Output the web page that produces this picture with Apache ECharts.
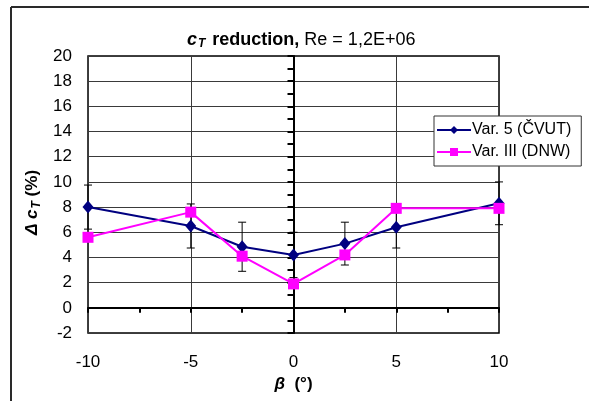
<!DOCTYPE html>
<html lang="en">
<head>
    <meta charset="UTF-8">
    <title>cT reduction</title>
    <style>
        body {
            margin: 0;
            padding: 0;
            background: #fff;
        }
        #chart {
            width: 589px;
            height: 401px;
        }
    </style>
</head>
<body>
<div id="chart"></div>
<script src="https://cdn.jsdelivr.net/npm/echarts@6/dist/echarts.min.js"></script>
<script>
    // values
    const beta = [-10, -5, -2.5, 0, 2.5, 5, 10];
    const cvut = [8.0, 6.5, 4.85, 4.2, 5.1, 6.4, 8.3];
    const dnw = [5.6, 7.6, 4.1, 1.9, 4.2, 7.9, 7.9];
    const cvutErr = [1.75, 1.75, 1.95, 1.8, 1.7, 1.65, 1.7];
    const seriesNames = ["Var. 5 (ČVUT)", "Var. III (DNW)"];

    const font = "Liberation Sans, Arial, sans-serif";
    const chart = echarts.init(document.getElementById("chart"));

    const cvutData = beta.map((b, i) => [b, cvut[i]]);
    const dnwData = beta.map((b, i) => [b, dnw[i]]);
    const errData = beta.map((b, i) => [b, cvut[i] - cvutErr[i], cvut[i] + cvutErr[i]]);

    function renderErr(params, api) {
        const top = api.coord([api.value(0), api.value(2)]);
        const bot = api.coord([api.value(0), api.value(1)]);
        const cap = 4;
        const style = {stroke: "#000", lineWidth: 1};
        return {
            type: "group",
            children: [
                {type: "line", shape: {x1: top[0], y1: top[1], x2: bot[0], y2: bot[1]}, style},
                {type: "line", shape: {x1: top[0] - cap, y1: top[1], x2: top[0] + cap, y2: top[1]}, style},
                {type: "line", shape: {x1: bot[0] - cap, y1: bot[1], x2: bot[0] + cap, y2: bot[1]}, style}
            ]
        };
    }

    const option = {
        backgroundColor: "#fff",
        animation: false,
        textStyle: {fontFamily: font},
        title: {
            text: "{ci|c}{sub|T}{b| reduction,}{n| Re = 1,2E+06}",
            left: 182,
            top: 25,
            textStyle: {
                rich: {
                    ci: {fontFamily: font, fontSize: 18, fontWeight: "bold", fontStyle: "italic", color: "#000"},
                    sub: {fontFamily: font, fontSize: 12, fontWeight: "bold", fontStyle: "italic", color: "#000", padding: [8, 2, 0, 1]},
                    b: {fontFamily: font, fontSize: 18, fontWeight: "bold", color: "#000"},
                    n: {fontFamily: font, fontSize: 18, fontWeight: "normal", color: "#000"}
                }
            }
        },
        legend: {
            orient: "vertical",
            left: 434,
            top: 116,
            backgroundColor: "#fff",
            borderColor: "#333",
            borderWidth: 1,
            borderRadius: 0,
            padding: [6, 10, 6, 2],
            itemGap: 6,
            itemWidth: 34,
            itemHeight: 10,
            data: seriesNames,
            textStyle: {fontFamily: font, fontSize: 16, color: "#000", padding: [0, 0, 0, -4]}
        },
        grid: {
            left: 88,
            top: 56,
            right: 90,
            bottom: 68,
            show: true,
            borderColor: "#000",
            borderWidth: 1.5,
            containLabel: false
        },
        xAxis: [
            {
                type: "value",
                min: -10,
                max: 10,
                interval: 5,
                position: "bottom",
                axisLine: {show: false, onZero: false},
                axisTick: {show: false},
                axisLabel: {fontFamily: font, fontSize: 17, color: "#000", margin: 21},
                splitLine: {show: true, lineStyle: {color: "#3a3a3a", width: 1}},
                name: "{g|β}{n|  (°)}",
                nameLocation: "middle",
                nameGap: 43,
                nameTextStyle: {
                    rich: {
                        g: {fontFamily: font, fontSize: 17, fontWeight: "bold", fontStyle: "italic", color: "#000"},
                        n: {fontFamily: font, fontSize: 17, fontWeight: "bold", color: "#000"}
                    }
                }
            },
            {
                type: "value",
                min: -10,
                max: 10,
                interval: 2.5,
                position: "bottom",
                axisLine: {show: true, onZero: true, lineStyle: {color: "#000", width: 2}},
                axisTick: {show: true, length: 5, lineStyle: {color: "#000", width: 2}},
                axisLabel: {show: false},
                splitLine: {show: false}
            }
        ],
        yAxis: [
            {
                type: "value",
                min: -2,
                max: 20,
                interval: 2,
                position: "left",
                axisLine: {show: false, onZero: false},
                axisTick: {show: false},
                axisLabel: {fontFamily: font, fontSize: 17, color: "#000", margin: 16},
                splitLine: {show: true, lineStyle: {color: "#3a3a3a", width: 1}},
                name: "{g|Δ c}{sub|T}{n| (%)}",
                nameLocation: "middle",
                nameRotate: 90,
                nameGap: 42,
                nameTextStyle: {
                    rich: {
                        g: {fontFamily: font, fontSize: 17, fontWeight: "bold", fontStyle: "italic", color: "#000"},
                        sub: {fontFamily: font, fontSize: 12, fontWeight: "bold", fontStyle: "italic", color: "#000", padding: [8, 0, 0, 1]},
                        n: {fontFamily: font, fontSize: 17, fontWeight: "bold", color: "#000", padding: [0, 16, 0, 0]}
                    }
                }
            },
            {
                type: "value",
                min: -2,
                max: 20,
                interval: 1,
                position: "left",
                axisLine: {show: true, onZero: true, lineStyle: {color: "#000", width: 2}},
                axisTick: {show: true, length: 6, lineStyle: {color: "#000", width: 2}},
                axisLabel: {show: false},
                splitLine: {show: false}
            }
        ],
        series: [
            {
                name: "err",
                type: "custom",
                xAxisIndex: 0,
                yAxisIndex: 0,
                renderItem: renderErr,
                encode: {x: 0, y: [1, 2]},
                data: errData,
                z: 3,
                silent: true
            },
            {
                name: seriesNames[0],
                type: "line",
                xAxisIndex: 0,
                yAxisIndex: 0,
                data: cvutData,
                symbol: "diamond",
                symbolSize: [11, 13],
                color: "#000080",
                lineStyle: {color: "#000080", width: 2},
                itemStyle: {color: "#000080"},
                z: 4
            },
            {
                name: seriesNames[1],
                type: "line",
                xAxisIndex: 0,
                yAxisIndex: 0,
                data: dnwData,
                symbol: "rect",
                symbolSize: 11,
                color: "#ff00ff",
                lineStyle: {color: "#ff00ff", width: 2},
                itemStyle: {color: "#ff00ff"},
                z: 5
            }
        ],
        graphic: [
            {type: "line", shape: {x1: 11, y1: 7, x2: 589, y2: 7}, style: {stroke: "#2a2a2a", lineWidth: 2}},
            {type: "line", shape: {x1: 11, y1: 7, x2: 11, y2: 401}, style: {stroke: "#2a2a2a", lineWidth: 2}}
        ]
    };

    chart.setOption(option);
</script>
</body>
</html>
